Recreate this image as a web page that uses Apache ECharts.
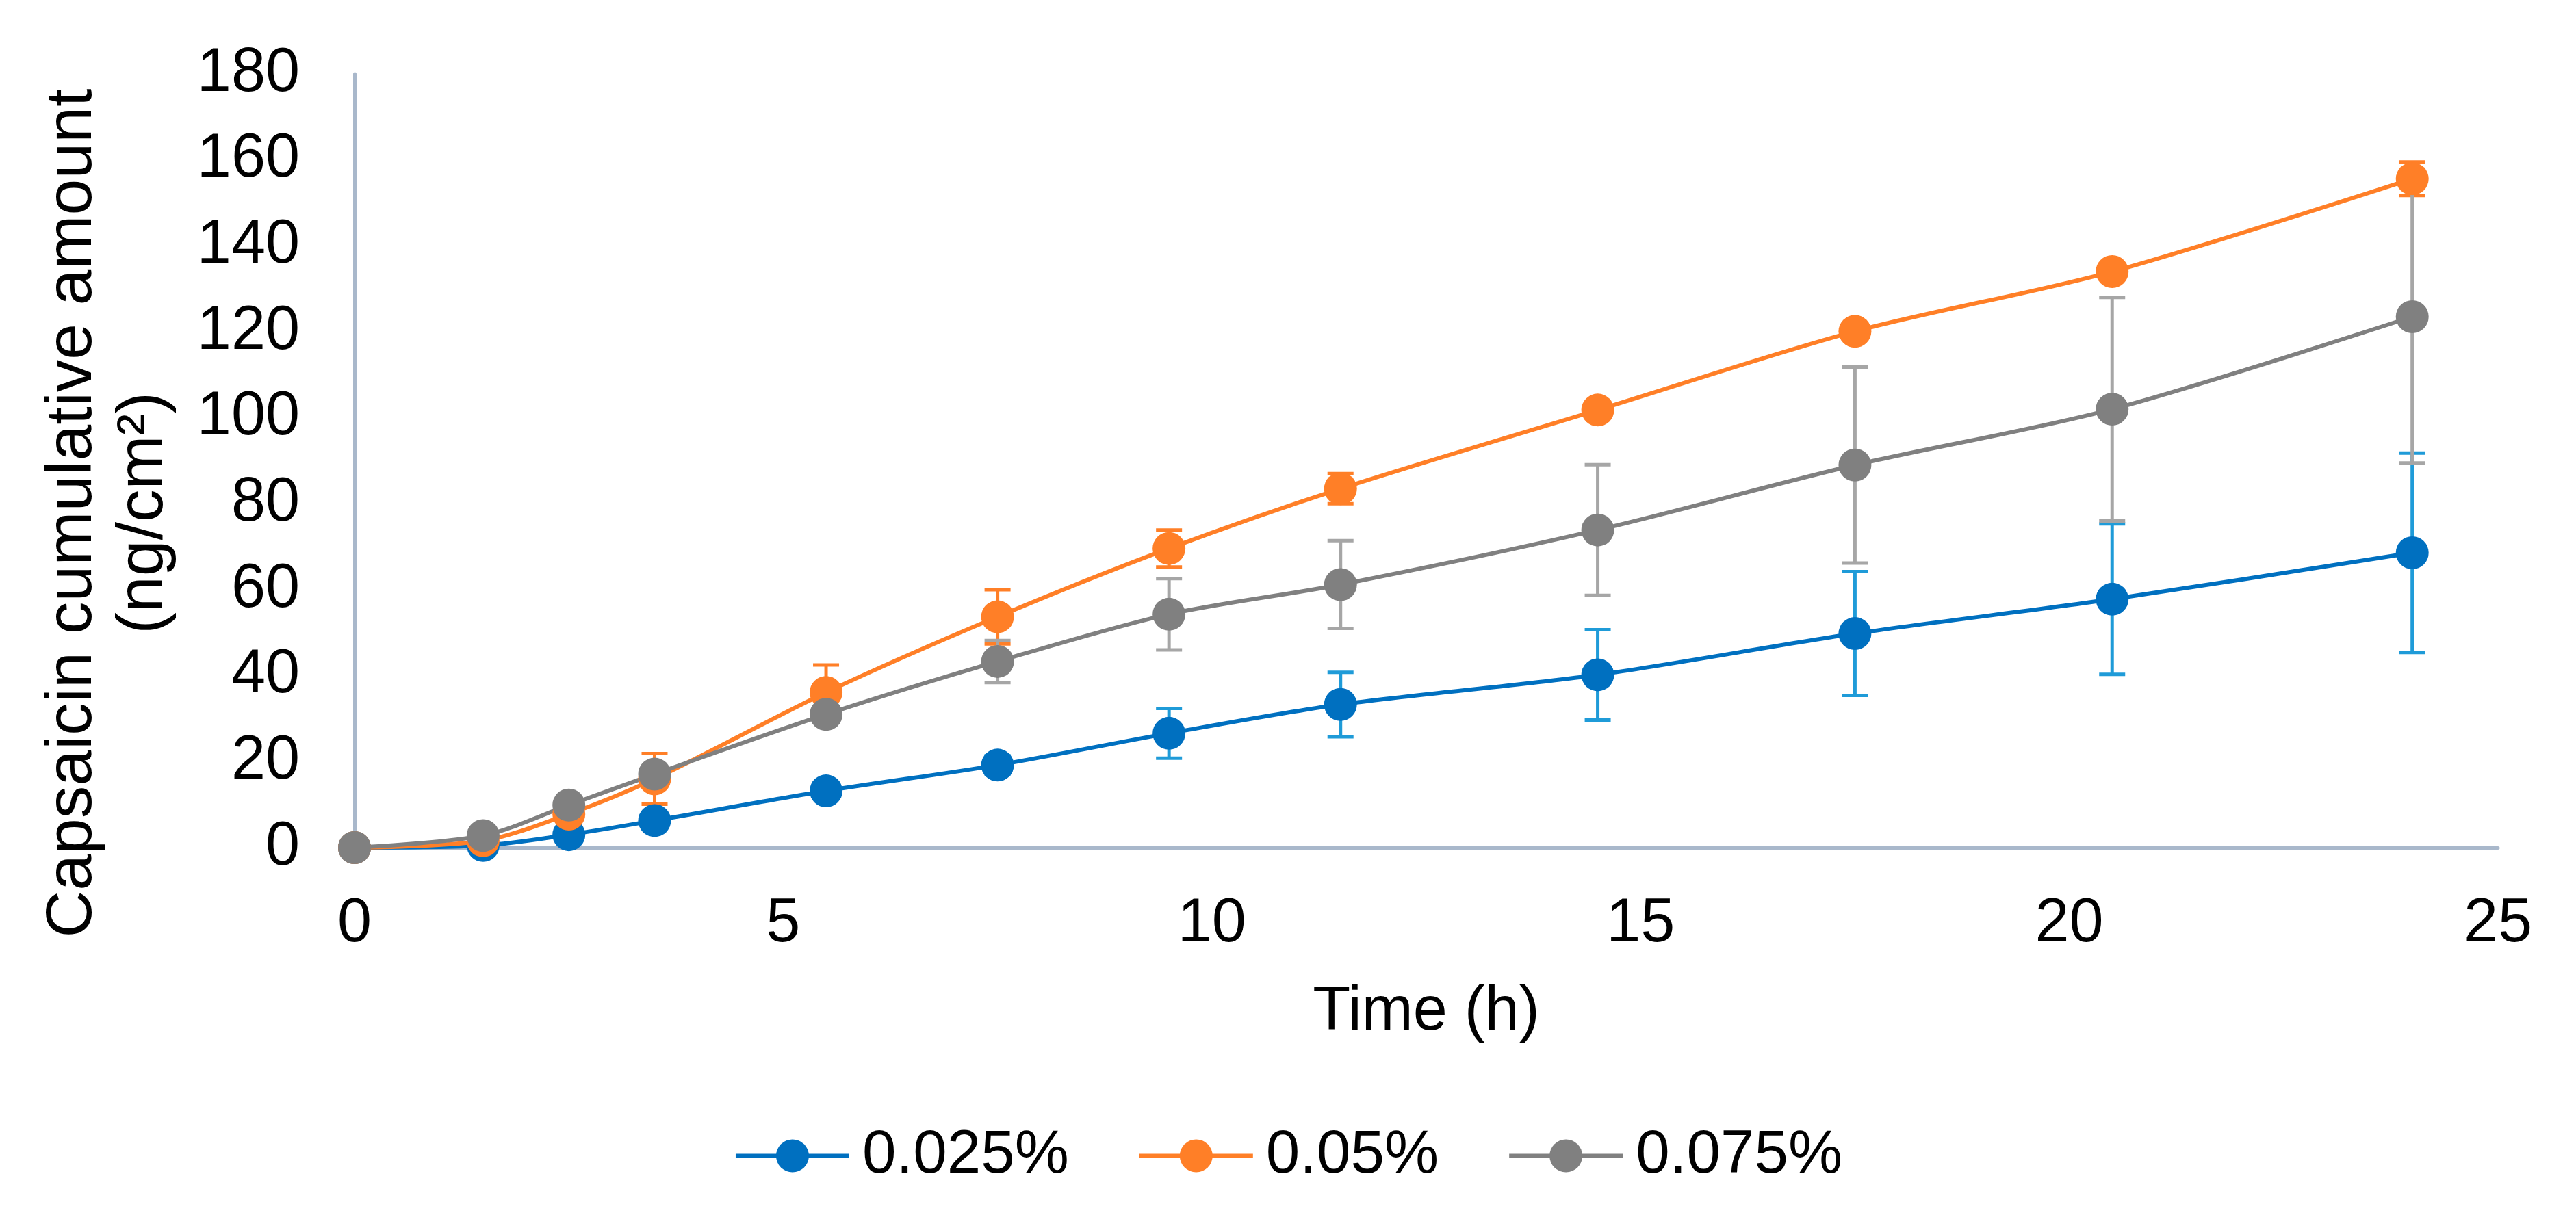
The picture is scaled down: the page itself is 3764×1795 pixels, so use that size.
<!DOCTYPE html>
<html>
<head>
<meta charset="utf-8">
<script src="https://cdn.jsdelivr.net/npm/echarts@6/dist/echarts.min.js"></script>
<style>
html,body{margin:0;padding:0;background:#fff;}
#chart{width:3764px;height:1795px;}
</style>
</head>
<body>
<div id="chart"></div>
<script>
// ---- data ----
const timeH = [0, 1.5, 2.5, 3.5, 5.5, 7.5, 9.5, 11.5, 14.5, 17.5, 20.5, 24];
const seriesNames = ['0.025%', '0.05%', '0.075%'];
const mean025 = [0, 0.5, 3.0, 6.3, 13.2, 19.2, 26.6, 33.3, 40.2, 49.8, 57.8, 68.6];
const sd025   = [0, 0.3, 0.8, 1.0, 1.2, 2.2, 5.8, 7.5, 10.5, 14.4, 17.5, 23.2];
const mean05  = [0, 1.6, 7.8, 16.0, 36.1, 53.7, 69.6, 83.5, 101.8, 120.1, 134.0, 155.6];
const sd05    = [0, 0.4, 1.2, 5.9, 6.4, 6.3, 4.3, 3.5, 1.2, 1.2, 1.2, 3.9];
const mean075 = [0, 2.8, 9.9, 17.1, 31.0, 43.3, 54.3, 61.2, 73.9, 89.0, 102.0, 123.5];
const sd075   = [0, 0.5, 1.0, 1.5, 1.5, 4.9, 8.3, 10.2, 15.2, 22.8, 26.0, 34.0];
const xTicks = [0, 5, 10, 15, 20, 25];
const yTicks = [0, 20, 40, 60, 80, 100, 120, 140, 160, 180];

const lineColors = ['#0070C0', '#FF7F27', '#808080'];
const errColors  = ['#1F9BD8', '#FF7F27', '#A6A6A6'];
const means = [mean025, mean05, mean075];
const sds = [sd025, sd05, sd075];

const FONT = '"Liberation Sans", Arial, sans-serif';

function lineSeries(i) {
  return {
    name: seriesNames[i],
    type: 'line',
    z: 3,
    smooth: 0.3,
    symbol: 'circle',
    symbolSize: 48,
    data: timeH.map((t, k) => [t, means[i][k]]),
    lineStyle: { color: lineColors[i], width: 6 },
    itemStyle: { color: lineColors[i] },
    emphasis: { disabled: true }
  };
}

function errorSeries(i) {
  const color = errColors[i];
  return {
    type: 'custom',
    z: 1,
    silent: true,
    data: timeH.map((t, k) => [t, means[i][k] - sds[i][k], means[i][k] + sds[i][k], sds[i][k]])
               .filter(d => d[3] > 0),
    encode: { x: 0, y: [1, 2] },
    renderItem: function (params, api) {
      const x = api.value(0);
      const top = api.coord([x, api.value(2)]);
      const bot = api.coord([x, api.value(1)]);
      const hw = 19;
      const style = { stroke: color, lineWidth: 5 };
      return {
        type: 'group',
        children: [
          { type: 'line', shape: { x1: top[0], y1: top[1], x2: bot[0], y2: bot[1] }, style: style },
          { type: 'line', shape: { x1: top[0] - hw, y1: top[1], x2: top[0] + hw, y2: top[1] }, style: style },
          { type: 'line', shape: { x1: bot[0] - hw, y1: bot[1], x2: bot[0] + hw, y2: bot[1] }, style: style }
        ]
      };
    }
  };
}

const chart = echarts.init(document.getElementById('chart'), null, { renderer: 'canvas' });
chart.setOption({
  backgroundColor: '#ffffff',
  animation: false,
  textStyle: { fontFamily: FONT },
  grid: { left: 518, right: 114, top: 108, bottom: 556, containLabel: false, outerBoundsMode: 'none' },
  xAxis: {
    type: 'value',
    min: xTicks[0],
    max: xTicks[xTicks.length - 1],
    interval: xTicks[1] - xTicks[0],
    name: 'Time (h)',
    nameLocation: 'middle',
    nameGap: 196,
    nameTextStyle: { fontSize: 90, color: '#000', fontFamily: FONT },
    axisLine: { show: true, lineStyle: { color: '#A9B8CB', width: 5 } },
    axisTick: { show: false },
    splitLine: { show: false },
    axisLabel: { fontSize: 90, color: '#000', margin: 67, fontFamily: FONT }
  },
  yAxis: {
    type: 'value',
    min: yTicks[0],
    max: yTicks[yTicks.length - 1],
    interval: yTicks[1] - yTicks[0],
    name: 'Capsaicin cumulative amount\n(ng/cm\u00B2)',
    nameLocation: 'middle',
    nameGap: 255,
    nameTextStyle: { fontSize: 95, color: '#000', lineHeight: 104, align: 'center', padding: [0, 153, 0, 0], fontFamily: FONT },
    axisLine: { show: true, lineStyle: { color: '#A9B8CB', width: 5 } },
    axisTick: { show: false },
    splitLine: { show: false },
    axisLabel: { fontSize: 90, color: '#000', margin: 80, fontFamily: FONT }
  },
  legend: {
    data: seriesNames,
    bottom: 56,
    left: 'center',
    itemWidth: 166,
    itemHeight: 60,
    itemGap: 100,
    selectedMode: false,
    lineStyle: { width: 6 },
    textStyle: { fontSize: 89, color: '#000', padding: [0, 0, 0, 14], fontFamily: FONT }
  },
  series: [
    errorSeries(0), errorSeries(1), errorSeries(2),
    lineSeries(0), lineSeries(1), lineSeries(2)
  ]
});
</script>
</body>
</html>
